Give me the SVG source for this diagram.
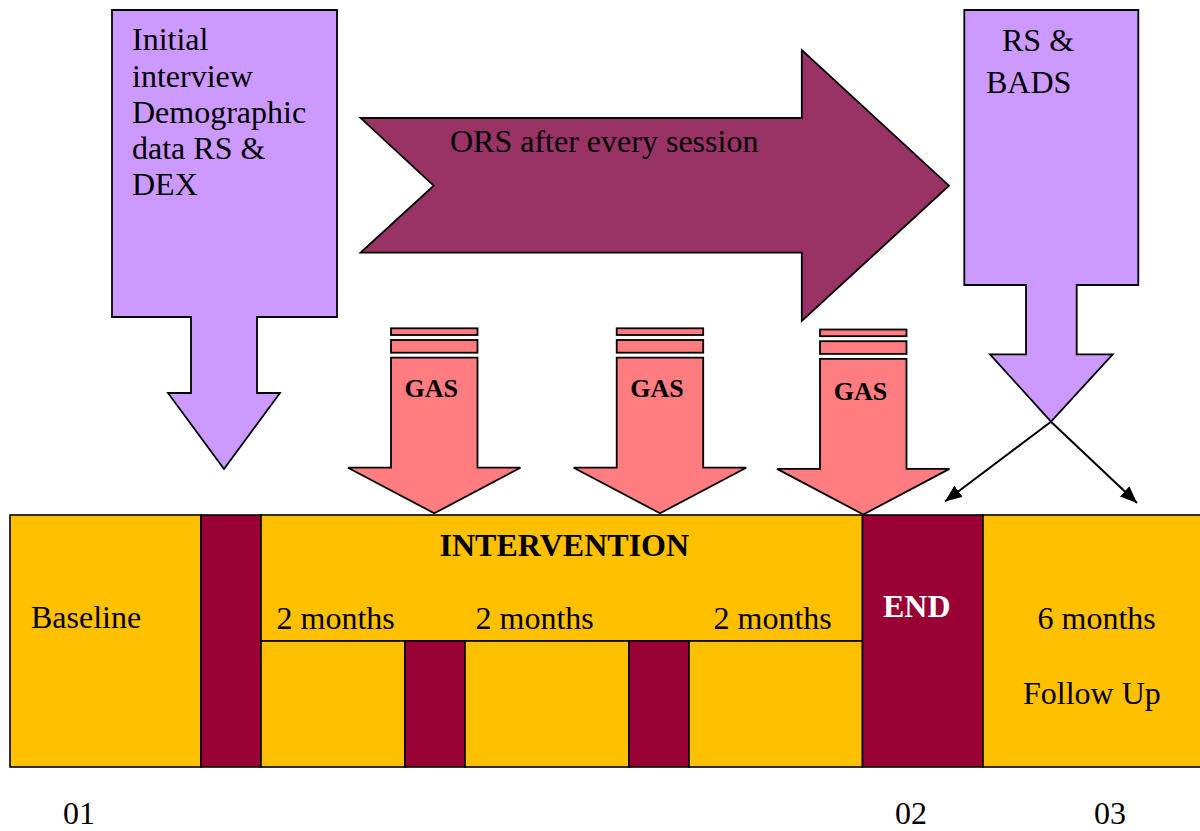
<svg xmlns="http://www.w3.org/2000/svg" xmlns:xlink="http://www.w3.org/1999/xlink" width="1200" height="831" viewBox="0 0 1200 831">
  <style>
    .lbl { font-family: "Liberation Serif", "Times New Roman", serif; font-size: 32px; fill: #000; }
    .bold { font-weight: bold; }
    .gas { font-family: "Liberation Serif", "Times New Roman", serif; font-size: 26px; font-weight: bold; fill: #000; }
    .white { fill: #fff; }
    .purple { fill: #CC99FF; stroke: #000; stroke-width: 1.8; stroke-linejoin: miter; }
    .plum { fill: #993366; stroke: #000; stroke-width: 1.8; }
    .salmon { fill: #FF7C80; stroke: #000; stroke-width: 1.8; }
    .gold { fill: #FFC000; stroke: #000; stroke-width: 1.6; }
    .maroon { fill: #990033; stroke: #000; stroke-width: 1.6; }
    .conn { stroke: #000; stroke-width: 2; fill: none; }
  </style>
  <defs>
    <!-- striped block arrow used for each GAS marker -->
    <g id="gasArrow">
      <rect class="salmon" x="0" y="0" width="86.5" height="6.7"/>
      <rect class="salmon" x="0" y="11.7" width="86.5" height="12.7"/>
      <path class="salmon" d="M0,29.4 H86.5 V139.4 H129.5 L43.3,185 L-43,139.4 H0 Z"/>
    </g>
    <marker id="head" markerUnits="userSpaceOnUse" markerWidth="18" markerHeight="14" refX="17" refY="7" orient="auto">
      <path d="M0,0 L17,7 L0,14 Z" fill="#000"/>
    </marker>
  </defs>

  <rect width="1200" height="831" fill="#fff"/>

  <!-- initial assessment -->
  <g id="initial">
    <path class="purple" d="M112,10 H337 V317 H257 V393 H280 L224,469 L168,393 H191 V317 H112 Z"/>
    <text class="lbl" x="132" y="50">Initial</text>
    <text class="lbl" x="132" y="86.5">interview</text>
    <text class="lbl" x="132" y="123">Demographic</text>
    <text class="lbl" x="132" y="159">data RS &amp;</text>
    <text class="lbl" x="132" y="195">DEX</text>
  </g>

  <!-- session rating arrow -->
  <g id="ors">
    <path class="plum" d="M360.6,118 H801.8 V50 L949,185.7 L801.8,321 V252.7 H360.6 L433.7,185.7 Z"/>
    <text class="lbl" x="450" y="152">ORS after every session</text>
  </g>

  <!-- GAS markers -->
  <g id="gas1">
    <use xlink:href="#gasArrow" href="#gasArrow" transform="translate(391,328.3)"/>
    <text class="gas" x="404.5" y="397">GAS</text>
  </g>
  <g id="gas2">
    <use xlink:href="#gasArrow" href="#gasArrow" transform="translate(616.7,328.3)"/>
    <text class="gas" x="630.3" y="397">GAS</text>
  </g>
  <g id="gas3">
    <use xlink:href="#gasArrow" href="#gasArrow" transform="translate(820,329.5)"/>
    <text class="gas" x="833.8" y="399.5">GAS</text>
  </g>

  <!-- end-of-treatment assessment -->
  <g id="final">
    <path class="purple" d="M964.3,10 H1138.3 V285 H1076.7 V354.3 H1112.7 L1051,421.7 L990,354.3 H1026 V285 H964.3 Z"/>
    <text class="lbl" x="1002" y="50.5">RS &amp;</text>
    <text class="lbl" x="986" y="92.5">BADS</text>
  </g>

  <!-- timeline -->
  <g id="baseline">
    <rect class="gold" x="10" y="515" width="191" height="252"/>
    <text class="lbl" x="31" y="628">Baseline</text>
  </g>
  <g id="gap1">
    <rect class="maroon" x="201" y="515" width="60" height="252"/>
  </g>
  <g id="intervention">
    <rect class="gold" x="261" y="515" width="601.5" height="126"/>
    <rect class="gold" x="261" y="641" width="144" height="126"/>
    <rect class="maroon" x="405" y="641" width="60" height="126"/>
    <rect class="gold" x="465" y="641" width="164" height="126"/>
    <rect class="maroon" x="629" y="641" width="60" height="126"/>
    <rect class="gold" x="689" y="641" width="173.5" height="126"/>
    <text class="lbl bold" x="439.5" y="556">INTERVENTION</text>
    <text class="lbl" x="276.5" y="628.5">2 months</text>
    <text class="lbl" x="475.5" y="628.5">2 months</text>
    <text class="lbl" x="713.5" y="628.5">2 months</text>
  </g>
  <g id="end">
    <rect class="maroon" x="862.5" y="515" width="120.5" height="252"/>
    <text class="lbl bold white" x="883" y="617">END</text>
  </g>
  <g id="followup">
    <rect class="gold" x="983" y="515" width="220" height="252"/>
    <text class="lbl" x="1037.5" y="628.5">6 months</text>
    <text class="lbl" x="1023" y="703.5">Follow Up</text>
  </g>

  <!-- measurement points -->
  <g id="points">
    <text class="lbl" x="63" y="823.5">01</text>
    <text class="lbl" x="895" y="823.5">02</text>
    <text class="lbl" x="1094" y="823.5">03</text>
  </g>

  <!-- connectors -->
  <g id="connectors">
    <line class="conn" x1="1051" y1="421.7" x2="945" y2="501.5" marker-end="url(#head)"/>
    <line class="conn" x1="1051" y1="421.7" x2="1137" y2="503" marker-end="url(#head)"/>
  </g>
</svg>
